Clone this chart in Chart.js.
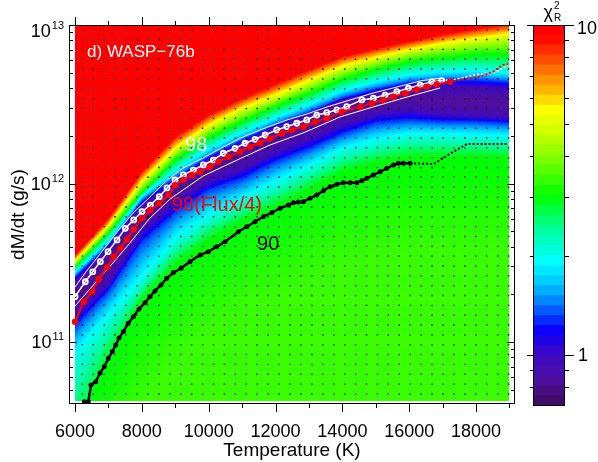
<!DOCTYPE html>
<html>
<head>
<meta charset="utf-8">
<script src="https://cdn.jsdelivr.net/npm/chart.js@4.4.0/dist/chart.umd.min.js"></script>
<style>
  html, body { margin: 0; padding: 0; background: #fff; }
  #wrap { position: relative; width: 598px; height: 462px; }
  #main { position: absolute; left: 0; top: 0; }
  #bar { position: absolute; left: 520px; top: 0; }
</style>
</head>
<body>
<div id="wrap">
  <canvas id="main" width="598" height="462"></canvas>
  <canvas id="bar" width="78" height="462"></canvas>
</div>
<script>
const tempCols = [6000, 7000, 8000, 9000, 10000, 11000, 12000, 13000, 14000, 15000, 16000, 17000, 18000, 19000];

// log10(dM/dt) where the reduced chi^2 crosses a level, per column
const isoChi10   = [11.555, 11.789, 12.085, 12.306, 12.445, 12.546, 12.640, 12.729, 12.811, 12.861, 12.905, 12.950, 12.987, 13.019];
const isoChi5    = [11.505, 11.726, 12.003, 12.211, 12.356, 12.464, 12.546, 12.640, 12.729, 12.785, 12.836, 12.874, 12.905, 12.931];
const isoChi3    = [11.473, 11.688, 11.940, 12.148, 12.287, 12.388, 12.483, 12.565, 12.653, 12.716, 12.767, 12.792, 12.811, 12.811];
const isoChi2    = [11.442, 11.644, 11.921, 12.085, 12.224, 12.325, 12.420, 12.502, 12.590, 12.647, 12.691, 12.710, 12.716, 12.703];
const isoChi13   = [11.410, 11.612, 11.890, 12.035, 12.167, 12.274, 12.369, 12.451, 12.539, 12.596, 12.640, 12.653, 12.653, 12.640];
const isoChi1    = [11.372, 11.593, 11.852, 12.003, 12.148, 12.256, 12.356, 12.438, 12.527, 12.558, 12.603, 12.603, 12.603, 12.590];
const valleyLog  = [11.278, 11.517, 11.751, 11.940, 12.085, 12.192, 12.287, 12.375, 12.451, 12.489, 12.527, 12.527, 12.514, 12.502];
const valleyChi  = [0.8, 0.79, 0.79, 0.79, 0.79, 0.8, 0.8, 0.8, 0.81, 0.81, 0.82, 0.82, 0.82, 0.82];
const isoChi1Lo  = [11.170, 11.372, 11.707, 11.890, 12.022, 12.098, 12.205, 12.287, 12.375, 12.445, 12.470, 12.440, 12.432, 12.420];
const isoChi13Lo = [11.095, 11.322, 11.631, 11.814, 11.959, 12.028, 12.136, 12.218, 12.312, 12.382, 12.400, 12.390, 12.390, 12.380];
const isoChi2Lo  = [10.918, 11.158, 11.391, 11.644, 11.789, 11.896, 12.003, 12.104, 12.211, 12.268, 12.306, 12.306, 12.300, 12.293];
const isoChi3Lo  = [10.382, 10.886, 11.265, 11.486, 11.644, 11.757, 11.852, 11.959, 12.073, 12.129, 12.167, 12.167, 12.167, 12.161];
const isoChiFar  = [9.877, 10.192, 10.634, 10.886, 11.076, 11.202, 11.297, 11.391, 11.486, 11.549, 11.580, 11.580, 11.580, 11.580];
const isoLevels  = [10, 5, 3, 2, 1.3, 0.93, null, 0.93, 1.3, 2, 3, 3.4];

// extent of the model grid
const mapTempRange = [6000, 19000];
const mapRateRange = [10.628, 13.0];

// model grid points (dots)
const gridTemps = [6220, 6547, 6874, 7201, 7528, 7855, 8182, 8509, 8836, 9163, 9490, 9817, 10144, 10471, 10798, 11125, 11452, 11779, 12106, 12433,
  12760, 13087, 13414, 13741, 14068, 14395, 14722, 15049, 15376, 15703, 16030, 16357, 16684, 17011, 17338, 17665, 17992, 18319, 18646, 18973];
const gridRates = [12.970, 12.908, 12.846, 12.784, 12.722, 12.660, 12.597, 12.535, 12.473, 12.411, 12.349, 12.287, 12.225, 12.163, 12.101, 12.039,
  11.976, 11.914, 11.852, 11.790, 11.728, 11.666, 11.604, 11.542, 11.480, 11.418, 11.355, 11.293, 11.231, 11.169, 11.107, 11.045, 10.983, 10.921,
  10.859, 10.797, 10.734, 10.672];

// best fit, 98 per cent
const fit98Temps = [6000, 6308, 6530, 6757, 6988, 7257, 7505, 7757, 8005, 8254, 8523, 8754, 8993, 9242, 9541, 9840, 10139, 10439, 10789, 11088,
  11387, 11687, 12037, 12336, 12636, 12935, 13234, 13533, 13833, 14132, 14581, 14928, 15278, 15629, 15976, 16326, 16676, 16975];
const fit98Rates = [11.286, 11.380, 11.443, 11.507, 11.570, 11.644, 11.717, 11.770, 11.822, 11.864, 11.917, 11.972, 12.022, 12.054, 12.085, 12.117,
  12.148, 12.191, 12.222, 12.254, 12.279, 12.306, 12.338, 12.359, 12.380, 12.401, 12.432, 12.447, 12.464, 12.485, 12.527, 12.538, 12.558, 12.579,
  12.601, 12.621, 12.642, 12.649];
const fit98ExtTemps = [16975, 17314, 17912, 18511, 18810, 18960];
const fit98ExtRates = [12.649, 12.653, 12.685, 12.697, 12.729, 12.748];
const fit98UpTemps = [6000, 6299, 6748, 7257, 7766, 8245, 8754, 9232, 9831, 10430, 11088, 11687, 12345, 12944, 13542, 14141, 14919, 15637, 16326, 16984];
const fit98UpRates = [11.347, 11.435, 11.555, 11.694, 11.820, 11.915, 12.022, 12.098, 12.161, 12.230, 12.300, 12.350, 12.401, 12.439, 12.483, 12.521,
  12.571, 12.609, 12.647, 12.666];
const fit98LoTemps = [6000, 6658, 7107, 7616, 8215, 8843, 9831, 10849, 11836, 12824, 13931, 14919, 15937, 16924];
const fit98LoRates = [11.227, 11.385, 11.492, 11.618, 11.776, 11.902, 12.047, 12.148, 12.243, 12.319, 12.420, 12.483, 12.546, 12.603];

// 98 per cent, flux / 4
const flux4Temps = [6000, 6260, 6509, 6709, 6958, 7158, 7356, 7556, 7757, 8005, 8254, 8523, 8804, 8993, 9242, 9493, 9741, 10041, 10289, 10588,
  10938, 11238, 11537, 11836, 12186, 12486, 12833, 13183, 13533, 13982, 14530, 14880, 15227, 15527, 15877, 16227, 16526, 16826, 17224];
const flux4Rates = [11.128, 11.254, 11.317, 11.396, 11.471, 11.538, 11.591, 11.648, 11.711, 11.780, 11.833, 11.875, 11.927, 11.991, 12.022, 12.054,
  12.074, 12.106, 12.138, 12.169, 12.201, 12.232, 12.257, 12.285, 12.317, 12.338, 12.358, 12.390, 12.411, 12.453, 12.485, 12.506, 12.527, 12.548,
  12.569, 12.594, 12.611, 12.626, 12.642];
const flux4ExtTemps = [17224, 17613, 18122, 18511, 18810, 18960];
const flux4ExtRates = [12.642, 12.657, 12.674, 12.705, 12.748, 12.754];

// 90 per cent
const fit90Temps = [6278, 6398, 6479, 6619, 6748, 6877, 6997, 7116, 7218, 7317, 7446, 7595, 7745, 7915, 8095, 8244, 8394, 8573, 8744, 8941,
  9172, 9441, 9740, 9989, 10240, 10489, 10888, 11139, 11387, 11636, 11887, 12136, 12384, 12534, 12683, 12833, 13034, 13234, 13432, 13632, 13833,
  14030, 14231, 14431, 14581, 14731, 14928, 15129, 15329, 15527, 15677, 15826, 16027];
const fit90Rates = [10.623, 10.623, 10.729, 10.749, 10.804, 10.844, 10.897, 10.939, 10.981, 11.025, 11.065, 11.118, 11.160, 11.208, 11.248, 11.286,
  11.322, 11.360, 11.402, 11.437, 11.465, 11.507, 11.549, 11.570, 11.601, 11.633, 11.696, 11.727, 11.759, 11.791, 11.816, 11.844, 11.864, 11.879,
  11.883, 11.885, 11.907, 11.927, 11.955, 11.980, 11.995, 12.005, 12.005, 12.005, 12.018, 12.033, 12.054, 12.074, 12.096, 12.117, 12.127, 12.127,
  12.127];
const fit90ExtTemps = [16027, 16724, 17200, 17723, 18969];
const fit90ExtRates = [12.127, 12.123, 12.185, 12.249, 12.249];

// colour bar
const chiMin = 0.7;
const chiMax = 10;
const cbSteps = 38;

const cmapStops = [0, 0.06, 0.14, 0.2, 0.28, 0.33, 0.38, 0.46, 0.55, 0.65, 0.72, 0.78, 0.82, 0.87, 0.93, 0.97, 1];
const cmapColors = ['#3a0c58', '#50109c', '#3a08c8', '#0a00ff', '#0090ff', '#00d0ff', '#00ffff', '#00ffa0', '#00ff00', '#80ff00',
  '#d0ff00', '#ffff00', '#ffc000', '#ff8000', '#ff3000', '#ff0000', '#ff0000'];

const FONT = "'Liberation Sans', Arial, sans-serif";
const isoLines = [isoChi10, isoChi5, isoChi3, isoChi2, isoChi13, isoChi1, valleyLog, isoChi1Lo, isoChi13Lo, isoChi2Lo, isoChi3Lo, isoChiFar];
const cmapRgb = cmapColors.map(h => [1, 3, 5].map(i => parseInt(h.substr(i, 2), 16)));

function colourFor(logChi) {
  const lo = Math.log10(chiMin);
  let f = (logChi - lo) / (Math.log10(chiMax) - lo);
  f = Math.max(0, Math.min(1, f));
  let k = 0;
  while (k < cmapStops.length - 2 && f > cmapStops[k + 1]) k++;
  const t = (f - cmapStops[k]) / (cmapStops[k + 1] - cmapStops[k]);
  const a = cmapRgb[k], b = cmapRgb[k + 1];
  return [0, 1, 2].map(i => Math.round(a[i] + (b[i] - a[i]) * t));
}

function atTemp(arr, T) {
  let i = 0;
  while (i < tempCols.length - 2 && T > tempCols[i + 1]) i++;
  const t = (T - tempCols[i]) / (tempCols[i + 1] - tempCols[i]);
  return arr[i] + (arr[i + 1] - arr[i]) * t;
}

function logChiAt(pos, vals, m) {
  if (m >= pos[0]) return vals[0];
  const n = pos.length - 1;
  if (m <= pos[n]) return vals[n];
  let k = 0;
  while (k < n - 1 && m < pos[k + 1]) k++;
  const t = (pos[k] - m) / (pos[k] - pos[k + 1]);
  return vals[k] + (vals[k + 1] - vals[k]) * t;
}

const toPts = (ts, ls) => ts.map((t, i) => ({ x: t, y: Math.pow(10, ls[i]) }));

const gridPts = [];
gridTemps.forEach(t => gridRates.forEach(r => gridPts.push({ x: t, y: Math.pow(10, r) })));

const heatmapPlugin = {
  id: 'heatmap',
  beforeDatasetsDraw(chart) {
    const { ctx, scales: { x, y } } = chart;
    const x0 = Math.round(x.getPixelForValue(mapTempRange[0]));
    const x1 = Math.round(x.getPixelForValue(mapTempRange[1]));
    const y0 = Math.round(y.getPixelForValue(Math.pow(10, mapRateRange[1])));
    const y1 = Math.round(y.getPixelForValue(Math.pow(10, mapRateRange[0])));
    const w = x1 - x0, h = y1 - y0;
    const off = document.createElement('canvas');
    off.width = w;
    off.height = h;
    const octx = off.getContext('2d');
    const img = octx.createImageData(w, h);
    const rows = [];
    for (let j = 0; j < h; j++) rows.push(Math.log10(y.getValueForPixel(y0 + j + 0.5)));
    for (let i = 0; i < w; i++) {
      const T = x.getValueForPixel(x0 + i + 0.5);
      const pos = isoLines.map(a => atTemp(a, T));
      const vals = isoLevels.map(v => Math.log10(v === null ? atTemp(valleyChi, T) : v));
      for (let j = 0; j < h; j++) {
        const rgb = colourFor(logChiAt(pos, vals, rows[j]));
        const k = (j * w + i) * 4;
        img.data[k] = rgb[0];
        img.data[k + 1] = rgb[1];
        img.data[k + 2] = rgb[2];
        img.data[k + 3] = 255;
      }
    }
    octx.putImageData(img, 0, 0);
    ctx.drawImage(off, x0, y0);
  }
};

const notes = [
  { text: 'd) WASP\u221276b', x: 6360, y: 12.798, color: '#fff', size: 17 },
  { text: '98', x: 9292, y: 12.205, color: '#fff', size: 20 },
  { text: '98(Flux/4)', x: 8900, y: 11.8265, color: '#ff0000', size: 20 },
  { text: '90', x: 11447, y: 11.580, color: '#000', size: 20 }
];

const framePlugin = {
  id: 'frame',
  afterDatasetsDraw(chart) {
    const { ctx, scales: { x, y } } = chart;
    ctx.save();
    ctx.textAlign = 'left';
    ctx.textBaseline = 'alphabetic';
    notes.forEach(n => {
      ctx.font = n.size + 'px ' + FONT;
      ctx.fillStyle = n.color;
      ctx.fillText(n.text, x.getPixelForValue(n.x), y.getPixelForValue(Math.pow(10, n.y)));
    });
    ctx.restore();
  },
  afterDraw(chart) {
    const { ctx, chartArea: a, scales: { x, y } } = chart;
    ctx.save();
    ctx.strokeStyle = '#000';
    ctx.fillStyle = '#000';
    ctx.lineWidth = 1;
    ctx.strokeRect(a.left + 0.5, a.top + 0.5, a.right - a.left - 1, a.bottom - a.top - 1);

    ctx.beginPath();
    for (let t = 6000; t <= 19000; t += 1000) {
      const px = Math.round(x.getPixelForValue(t)) + 0.5;
      const len = t % 2000 === 0 ? 8 : 4;
      ctx.moveTo(px, a.bottom); ctx.lineTo(px, a.bottom + len);
      ctx.moveTo(px, a.top); ctx.lineTo(px, a.top - len);
    }
    for (let e = 10; e <= 12; e++) {
      for (let m = 1; m <= 9; m++) {
        const v = m * Math.pow(10, e);
        if (v < y.min) continue;
        const py = Math.round(y.getPixelForValue(v)) + 0.5;
        const len = m === 1 ? 8 : 4;
        ctx.moveTo(a.left, py); ctx.lineTo(a.left + len, py);
        ctx.moveTo(a.right, py); ctx.lineTo(a.right - len, py);
      }
    }
    const pTop = Math.round(y.getPixelForValue(1e13)) + 0.5;
    ctx.moveTo(a.left, pTop); ctx.lineTo(a.left + 8, pTop);
    ctx.moveTo(a.right, pTop); ctx.lineTo(a.right - 8, pTop);
    ctx.stroke();

    ctx.font = '18px ' + FONT;
    ctx.textAlign = 'center';
    for (let t = 6000; t <= 18000; t += 2000) {
      ctx.fillText(String(t), x.getPixelForValue(t), a.bottom + 33);
    }
    [11, 12, 13].forEach(e => {
      const py = y.getPixelForValue(Math.pow(10, e));
      const base = Math.max(py + 6, a.top + 12);
      ctx.font = '11px ' + FONT;
      const sw = ctx.measureText(String(e)).width;
      ctx.textAlign = 'left';
      ctx.fillText(String(e), 64 - sw, base - 8);
      ctx.font = '18px ' + FONT;
      ctx.textAlign = 'right';
      ctx.fillText('10', 64 - sw - 1, base);
    });

    ctx.textAlign = 'center';
    ctx.font = '19px ' + FONT;
    ctx.fillText('Temperature (K)', (a.left + a.right) / 2, 456);
    ctx.translate(24, (a.top + a.bottom) / 2);
    ctx.rotate(-Math.PI / 2);
    ctx.fillText('dM/dt (g/s)', 0, 0);
    ctx.restore();
  }
};

new Chart(document.getElementById('main'), {
  type: 'scatter',
  data: {
    datasets: [
      { label: '98 (Flux/4)', data: toPts(flux4Temps, flux4Rates), showLine: true, borderColor: '#ff0000', backgroundColor: '#ff0000',
        borderWidth: 2, pointRadius: 3.2, pointBorderWidth: 0, order: 1 },
      { label: '98 (Flux/4) ext', data: toPts(flux4ExtTemps, flux4ExtRates), showLine: true, borderColor: '#ff0000',
        borderWidth: 2, borderDash: [2, 2], pointRadius: 0, order: 1 },
      { label: '90', data: toPts(fit90Temps, fit90Rates), showLine: true, borderColor: '#000', backgroundColor: '#000',
        borderWidth: 2.5, pointRadius: 2.5, pointBorderWidth: 0, order: 1 },
      { label: '90 ext', data: toPts(fit90ExtTemps, fit90ExtRates), showLine: true, borderColor: '#000',
        borderWidth: 2, borderDash: [2, 2], pointRadius: 0, order: 1 },
      { label: '98', data: toPts(fit98Temps, fit98Rates), showLine: true, borderColor: '#fff', backgroundColor: 'rgba(0,0,0,0)',
        borderWidth: 1.5, pointRadius: 2.5, pointBorderColor: '#fff', pointBorderWidth: 1.8, order: 2 },
      { label: '98 ext', data: toPts(fit98ExtTemps, fit98ExtRates), showLine: true, borderColor: '#fff',
        borderWidth: 2, borderDash: [2, 2], pointRadius: 0, order: 2 },
      { label: '98 upper', data: toPts(fit98UpTemps, fit98UpRates), showLine: true, borderColor: '#fff',
        borderWidth: 1, pointRadius: 0, order: 3 },
      { label: '98 lower', data: toPts(fit98LoTemps, fit98LoRates), showLine: true, borderColor: '#fff',
        borderWidth: 1, pointRadius: 0, order: 3 },
      { label: 'grid', data: gridPts, showLine: false, pointStyle: 'rect', pointRadius: 1, pointBorderWidth: 0,
        backgroundColor: '#000', order: 9 }
    ]
  },
  options: {
    responsive: false,
    animation: false,
    events: [],
    layout: { padding: { left: 69, top: 25, right: 83, bottom: 58 } },
    plugins: { legend: { display: false }, tooltip: { enabled: false } },
    scales: {
      x: { type: 'linear', min: 5820, max: 19165, bounds: 'data', display: false },
      y: { type: 'logarithmic', min: 4.063e10, max: 1e13, bounds: 'data', display: false }
    }
  },
  plugins: [heatmapPlugin, framePlugin]
});

// colour bar
const cbEdges = [];
for (let i = 0; i <= cbSteps; i++) cbEdges.push(chiMin * Math.pow(chiMax / chiMin, i / cbSteps));

const barFrame = {
  id: 'barFrame',
  afterDraw(chart) {
    const { ctx, chartArea: a, scales: { y } } = chart;
    ctx.save();
    ctx.strokeStyle = '#000';
    ctx.fillStyle = '#000';
    ctx.lineWidth = 1;
    ctx.strokeRect(a.left + 0.5, a.top + 0.5, a.right - a.left - 1, a.bottom - a.top - 1);
    ctx.beginPath();
    [0.8, 0.9, 1, 2, 3, 4, 5, 6, 7, 8, 9, 10].forEach(v => {
      const py = Math.round(y.getPixelForValue(v)) + 0.5;
      const major = v === 1 || v === 10;
      ctx.moveTo(a.left, py); ctx.lineTo(a.left - (major ? 6 : 3), py);
      ctx.moveTo(a.right, py); ctx.lineTo(a.right + (major ? 9 : 4), py);
    });
    ctx.stroke();
    ctx.font = '18px ' + FONT;
    ctx.textAlign = 'left';
    ctx.fillText('10', a.right + 12, Math.max(y.getPixelForValue(10) + 6, a.top + 9));
    ctx.fillText('1', a.right + 13, y.getPixelForValue(1) + 6);
    const cx = (a.left + a.right) / 2;
    ctx.font = '18px ' + FONT;
    ctx.textAlign = 'right';
    ctx.fillText('\u03c7', cx + 4, 18);
    ctx.font = '10px ' + FONT;
    ctx.textAlign = 'left';
    ctx.fillText('2', cx + 5, 9);
    ctx.fillText('R', cx + 5, 21);
    ctx.restore();
  }
};

new Chart(document.getElementById('bar'), {
  type: 'bar',
  data: {
    labels: [''],
    datasets: cbEdges.slice(0, -1).map((lo, i) => {
      const rgb = colourFor(Math.log10(Math.sqrt(lo * cbEdges[i + 1])));
      return {
        data: [[lo, cbEdges[i + 1]]],
        backgroundColor: 'rgb(' + rgb.join(',') + ')',
        borderWidth: 0,
        grouped: false,
        barPercentage: 1,
        categoryPercentage: 1,
        inflateAmount: 0.5
      };
    })
  },
  options: {
    responsive: false,
    animation: false,
    events: [],
    layout: { padding: { left: 13, top: 25, right: 33, bottom: 56 } },
    plugins: { legend: { display: false }, tooltip: { enabled: false } },
    scales: {
      x: { display: false },
      y: { type: 'logarithmic', min: chiMin, max: chiMax, bounds: 'data', display: false }
    }
  },
  plugins: [barFrame]
});
</script>
</body>
</html>
